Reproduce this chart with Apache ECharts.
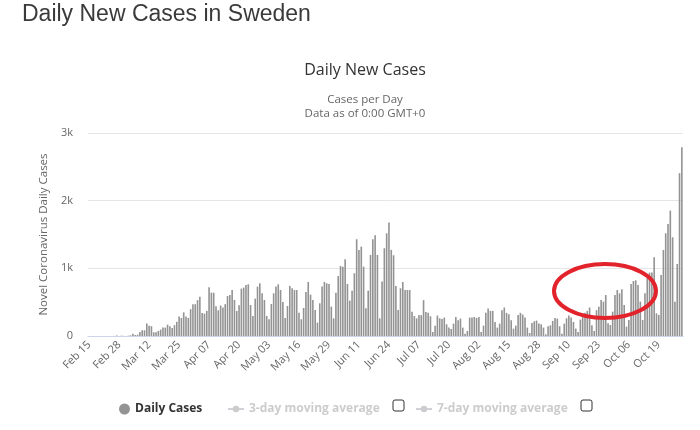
<!DOCTYPE html>
<html>
<head>
<meta charset="utf-8">
<title>Daily New Cases in Sweden</title>
<script src="https://cdn.jsdelivr.net/npm/echarts@6/dist/echarts.min.js"></script>
<style>
    html, body { margin: 0; padding: 0; background: #fff; }
    #chart { width: 700px; height: 430px; }
</style>
</head>
<body>
<div id="chart"></div>
<script>
// days from Feb 15 (2020) onward, one value per day
var startDay = [2020, 1, 15];
var monthNames = ['Jan', 'Feb', 'Mar', 'Apr', 'May', 'Jun', 'Jul', 'Aug', 'Sep', 'Oct', 'Nov', 'Dec'];

var dailyCases = [
    // Feb 15 - Mar 3
    0, 0, 0, 0, 0, 0, 0, 0, 0, 0, 0, 1, 6, 1, 5, 2, 0, 5,
    // Mar 4 - Apr 15
    10, 35, 15, 20, 60, 85, 85, 183, 150, 145, 55, 55, 75, 95, 125, 125, 168, 145, 120, 160,
    210, 290, 267, 350, 290, 267, 396, 470, 470, 530, 580, 340, 330, 370, 720, 640, 640, 440,
    380, 450, 420, 470, 590,
    // Apr 16 - Jul 7
    606, 680, 532, 370, 454, 700, 715, 754, 764, 458, 296, 552, 730, 779, 631, 532, 296, 247,
    473, 631, 730, 764, 680, 503, 266, 444, 740, 705, 680, 680, 345, 247, 414, 651, 799, 611,
    532, 385, 197, 483, 730, 799, 779, 769, 434, 261, 641, 887, 1035, 1025, 1134, 769, 523, 670,
    927, 1430, 1272, 1321, 1025, 409, 670, 1198, 1430, 1489, 1198, 261, 804, 1297, 1518, 1676,
    1272, 1193, 740, 385, 705, 799, 680, 680, 680, 360, 296, 261, 311,
    // Jul 8 - Sep 23
    307, 530, 356, 342, 292, 59, 153, 302, 262, 252, 272, 173, 124, 104, 183, 282, 233, 257,
    124, 35, 74, 272, 272, 282, 267, 282, 59, 153, 342, 406, 371, 371, 208, 124, 183, 381,
    421, 342, 322, 233, 109, 153, 312, 342, 317, 272, 124, 45, 193, 218, 228, 183, 173, 124,
    25, 144, 158, 223, 267, 257, 144, 35, 183, 262, 302, 272, 208, 109, 59, 243, 322, 342,
    371, 421, 158, 74, 381, 431,
    // Sep 24 - Oct 29
    532, 508, 606, 187, 163, 360, 606, 680, 631, 690, 458, 138, 237, 769, 813, 823, 754, 508,
    237, 631, 868, 937, 937, 1163, 335, 311, 902, 1272, 1518, 1656, 1853, 1459, 508, 1065, 2406, 2790
];

var yTicks = [0, 1000, 2000, 3000];
var yTickLabels = ['0', '1k', '2k', '3k'];

var legendNames = ['Daily Cases', '3-day moving average', '7-day moving average'];

var days = dailyCases.map(function(v, i) {
    var d = new Date(Date.UTC(startDay[0], startDay[1], startDay[2] + i));
    var dd = d.getUTCDate();
    return monthNames[d.getUTCMonth()] + ' ' + (dd < 10 ? '0' + dd : dd);
});

var chartFont = 'Open Sans';
var legendText = {
    fontFamily: chartFont,
    fontSize: 12,
    fontWeight: 'bold',
    color: '#333'
};

var chart = echarts.init(document.getElementById('chart'));

chart.setOption({
    animation: false,
    backgroundColor: '#fff',
    title: [{
        text: 'Daily New Cases in Sweden',
        left: 17,
        top: -2,
        textStyle: {
            fontFamily: 'Liberation Sans',
            fontSize: 23,
            fontWeight: 'normal',
            color: '#3a3a3a'
        }
    }, {
        text: 'Daily New Cases',
        left: 360,
        top: 57,
        textAlign: 'center',
        textStyle: {
            fontFamily: chartFont,
            fontSize: 16,
            fontWeight: 'normal',
            color: '#333'
        }
    }, {
        text: 'Cases per Day\nData as of 0:00 GMT+0',
        left: 360,
        top: 88,
        textAlign: 'center',
        textStyle: {
            fontFamily: chartFont,
            fontSize: 11.5,
            fontWeight: 'normal',
            lineHeight: 14,
            color: '#666'
        }
    }],
    grid: {
        left: 88,
        right: 17,
        top: 133,
        bottom: 94,
        outerBoundsMode: 'none'
    },
    legend: [{
        data: [{ name: legendNames[0], icon: 'circle' }],
        left: 114,
        top: 398,
        itemWidth: 11,
        itemHeight: 11,
        selectedMode: false,
        textStyle: legendText
    }, {
        data: [legendNames[1]],
        left: 222,
        top: 398,
        itemWidth: 16,
        itemHeight: 8,
        inactiveColor: '#ccc',
        selected: { '3-day moving average': false },
        textStyle: legendText
    }, {
        data: [legendNames[2]],
        left: 410,
        top: 398,
        itemWidth: 16,
        itemHeight: 8,
        inactiveColor: '#ccc',
        selected: { '7-day moving average': false },
        textStyle: legendText
    }],
    xAxis: {
        type: 'category',
        data: days,
        boundaryGap: true,
        axisLine: { lineStyle: { color: '#ccd6eb' } },
        axisTick: { show: false },
        axisLabel: {
            interval: 12,
            rotate: 45,
            margin: 7,
            color: '#666',
            fontFamily: chartFont,
            fontSize: 11
        }
    },
    yAxis: {
        type: 'value',
        min: yTicks[0],
        max: yTicks[yTicks.length - 1],
        interval: 1000,
        name: 'Novel Coronavirus Daily Cases',
        nameLocation: 'middle',
        nameGap: 38,
        nameTextStyle: {
            color: '#666',
            fontFamily: chartFont,
            fontSize: 11.5
        },
        axisLine: { show: false },
        axisTick: { show: false },
        axisLabel: {
            margin: 15,
            color: '#666',
            fontFamily: chartFont,
            fontSize: 11,
            formatter: function(v) {
                var k = yTicks.indexOf(v);
                return k > -1 ? yTickLabels[k] : '';
            }
        },
        splitLine: { lineStyle: { color: '#e6e6e6' } }
    },
    series: [{
        name: legendNames[0],
        type: 'bar',
        data: dailyCases,
        barCategoryGap: '30%',
        itemStyle: { color: '#939393' }
    }, {
        name: legendNames[1],
        type: 'line',
        data: [],
        symbol: 'circle',
        itemStyle: { color: '#999' }
    }, {
        name: legendNames[2],
        type: 'line',
        data: [],
        symbol: 'circle',
        itemStyle: { color: '#999' }
    }],
    graphic: [{
        // checkboxes next to the moving average legend items
        type: 'rect',
        shape: { x: 393, y: 400, width: 11, height: 11, r: 2 },
        style: { fill: '#fff', stroke: '#333', lineWidth: 1 }
    }, {
        type: 'rect',
        shape: { x: 581, y: 400, width: 11, height: 11, r: 2 },
        style: { fill: '#fff', stroke: '#333', lineWidth: 1 }
    }, {
        // hand drawn red highlight
        type: 'ellipse',
        shape: { cx: 605, cy: 291, rx: 51, ry: 27 },
        style: { fill: 'none', stroke: '#e3232b', lineWidth: 4 },
        z: 100
    }]
});
</script>
</body>
</html>
